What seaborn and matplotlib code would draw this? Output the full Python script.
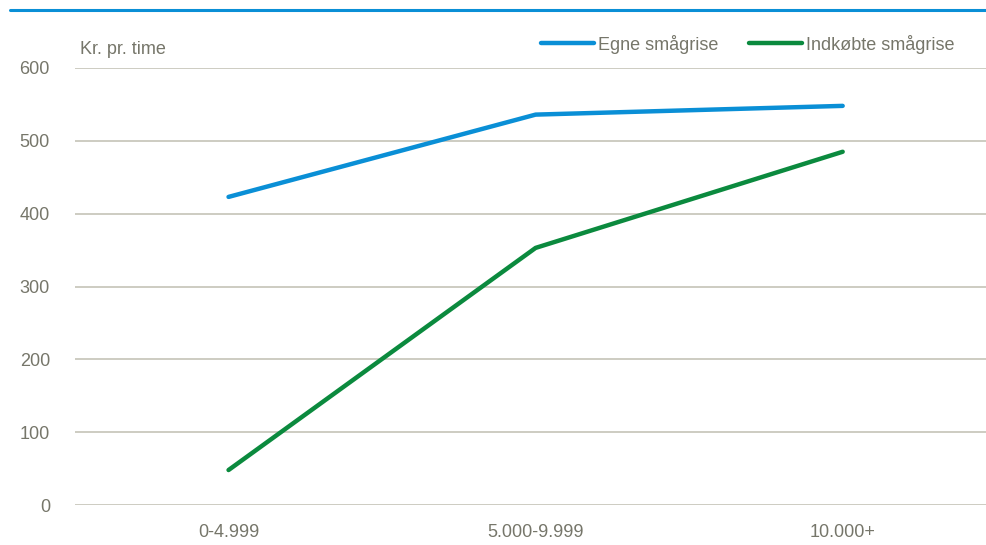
import matplotlib.pyplot as plt
import matplotlib.lines as mlines
import seaborn as sns
import pandas as pd

categories = ['0-4.999', '5.000-9.999', '10.000+']
egne = [423, 536, 548]
indkobte = [48, 353, 485]
series_names = ['Egne smågrise', 'Indkøbte smågrise']

blue = '#0a8fd6'
green = '#0b8a3e'
text_col = '#76766a'
grid_col = '#c9c8bd'

sns.set_theme(style='white')
plt.rcParams['font.family'] = ['Liberation Sans Narrow', 'Liberation Sans', 'DejaVu Sans']

df = pd.DataFrame({
    'gruppe': categories * 2,
    'kr': egne + indkobte,
    'serie': [series_names[0]] * 3 + [series_names[1]] * 3,
})
df['x'] = df['gruppe'].map({c: i for i, c in enumerate(categories)})

fig = plt.figure(figsize=(9.87, 5.45), dpi=100)
ax = fig.add_axes([75 / 987, 40 / 545, 912 / 987, 437 / 545])

sns.lineplot(data=df, x='x', y='kr', hue='serie', palette=[blue, green],
             linewidth=3.2, ax=ax, legend=False, solid_capstyle='round')

ax.set_xlim(-0.5, 2.47)
ax.set_ylim(0, 600)
ax.set_yticks(range(0, 601, 100))
ax.set_xticks(range(len(categories)))
ax.set_xticklabels(categories)
ax.yaxis.grid(True, color=grid_col, linewidth=1.3)
ax.set_axisbelow(True)
for s in ax.spines.values():
    s.set_visible(False)
ax.tick_params(axis='both', length=0, labelsize=13, labelcolor=text_col)
ax.tick_params(axis='y', pad=18)
ax.tick_params(axis='x', pad=14)
ax.set_xlabel('')
ax.set_ylabel('')

ax.text(80 / 987, 495 / 545, 'Kr. pr. time', transform=fig.transFigure,
        fontsize=13, color=text_col, ha='left', va='center')

handles = [mlines.Line2D([], [], color=c, linewidth=3.2, solid_capstyle='round')
           for c in [blue, green]]
fig.legend(handles, series_names, loc='center right', bbox_to_anchor=(962 / 987, 501 / 545),
           ncol=2, frameon=False, fontsize=13, labelcolor=text_col,
           handlelength=2.9, handletextpad=0.25, columnspacing=1.7, borderaxespad=0)

# top rule
fig.add_artist(mlines.Line2D([10 / 987, 1], [535 / 545, 535 / 545],
                             transform=fig.transFigure, color=blue, linewidth=2.2))

fig.savefig('out.png', dpi=100)
